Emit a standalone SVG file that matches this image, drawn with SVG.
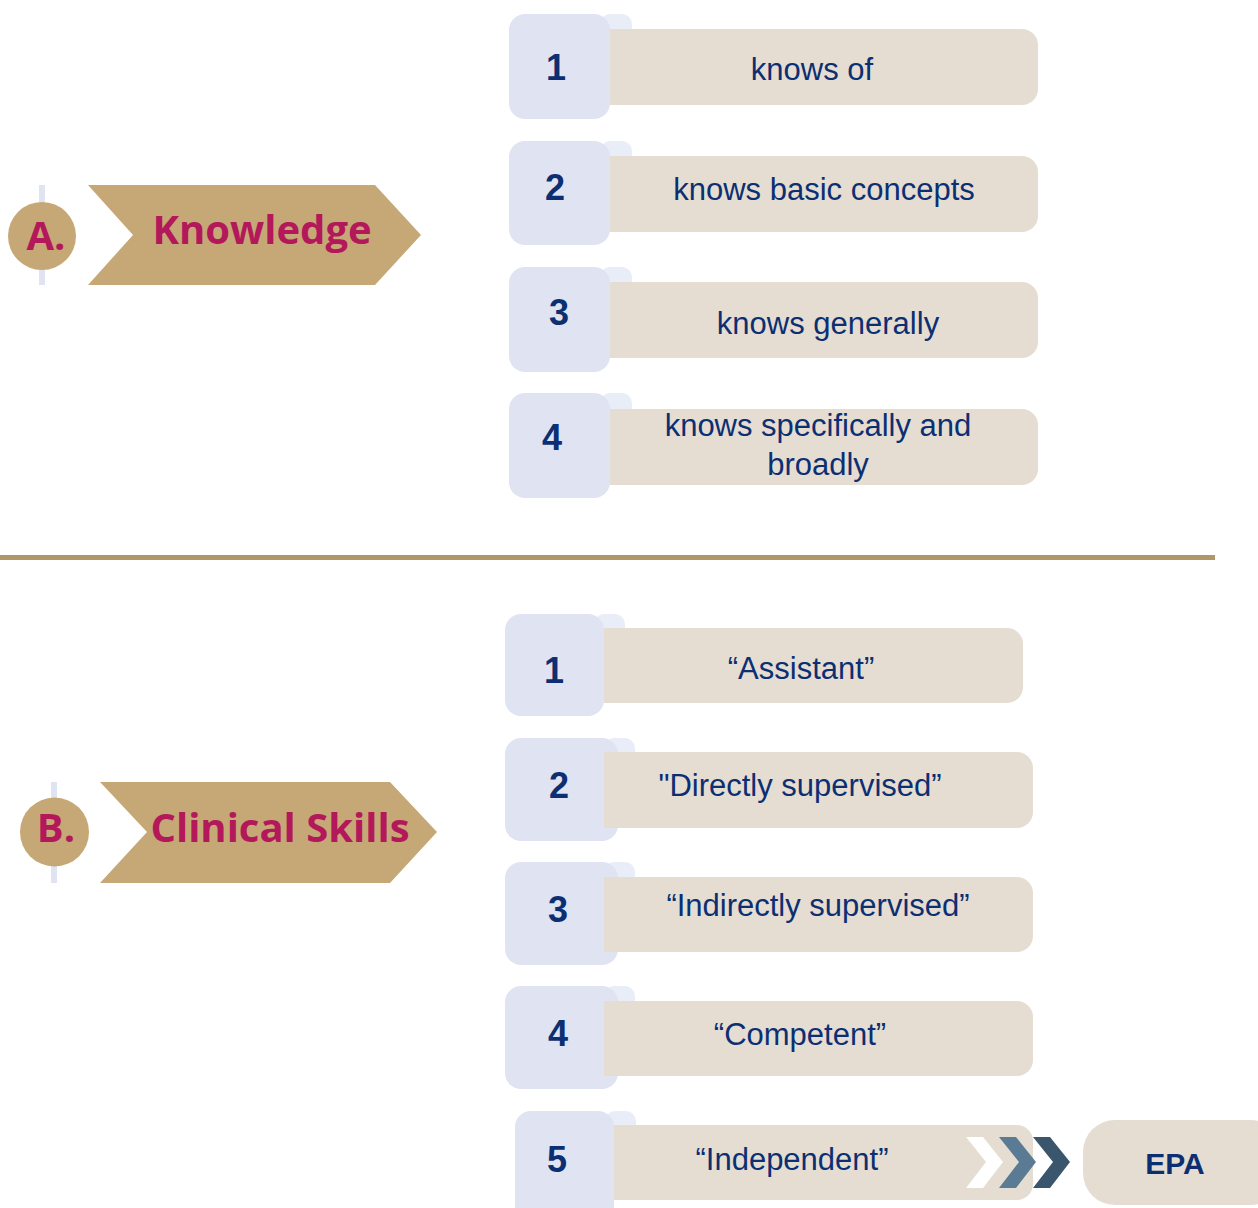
<svg xmlns="http://www.w3.org/2000/svg" width="1258" height="1208" viewBox="0 0 1258 1208">
<defs>
<style>
.blue{fill:#dfe3f2}
.tab{fill:#e9edf7}
.beige{fill:#e5ddd2}
.num{font-family:"Liberation Sans",Arial,sans-serif;font-weight:700;font-size:36px;fill:#0c2f72;text-anchor:middle}
.lbl{font-family:"Liberation Sans",Arial,sans-serif;font-size:31px;fill:#0c2f72;text-anchor:middle}
.gold{fill:#c6a876}
.head{font-family:"Open Sans","Noto Sans",sans-serif;font-weight:700;font-size:40px;fill:#b3185a}
.vline{fill:#dfe3f2}
</style>
</defs>
<rect width="1258" height="1208" fill="#ffffff"/>

<g id="A-label">
<rect class="vline" x="39" y="185" width="6" height="100"/>
<circle class="gold" cx="42" cy="236" r="34"/>
<text class="head" x="46" y="250" text-anchor="middle">A.</text>
<polygon class="gold" points="88,185 375,185 421,235 375,285 88,285 133,235"/>
<text class="head" x="262" y="244" text-anchor="middle">Knowledge</text>
</g>

<g id="A1">
<rect class="tab" x="600" y="14" width="32" height="30" rx="10"/>
<rect class="blue" x="509" y="14" width="101" height="105" rx="16"/>
<rect class="beige" x="610" y="29" width="428" height="76" rx="16"/>
<rect class="beige" x="610" y="29" width="30" height="76"/>
<text class="num" x="556" y="80">1</text>
<text class="lbl" x="812" y="80">knows of</text>
</g>
<g id="A2">
<rect class="tab" x="600" y="141" width="32" height="30" rx="10"/>
<rect class="blue" x="509" y="141" width="101" height="104" rx="16"/>
<rect class="beige" x="610" y="156" width="428" height="76" rx="16"/>
<rect class="beige" x="610" y="156" width="30" height="76"/>
<text class="num" x="555" y="200">2</text>
<text class="lbl" x="824" y="200">knows basic concepts</text>
</g>
<g id="A3">
<rect class="tab" x="600" y="267" width="32" height="30" rx="10"/>
<rect class="blue" x="509" y="267" width="101" height="105" rx="16"/>
<rect class="beige" x="610" y="282" width="428" height="76" rx="16"/>
<rect class="beige" x="610" y="282" width="30" height="76"/>
<text class="num" x="559" y="325">3</text>
<text class="lbl" x="828" y="334">knows generally</text>
</g>
<g id="A4">
<rect class="tab" x="600" y="393" width="32" height="30" rx="10"/>
<rect class="blue" x="509" y="393" width="101" height="105" rx="16"/>
<rect class="beige" x="610" y="409" width="428" height="76" rx="16"/>
<rect class="beige" x="610" y="409" width="30" height="76"/>
<text class="num" x="552" y="450">4</text>
<text class="lbl" x="818" y="436">knows specifically and</text>
<text class="lbl" x="818" y="475">broadly</text>
</g>

<rect id="divider" x="0" y="555" width="1215" height="5" fill="#b09668"/>

<g id="B-label">
<rect class="vline" x="51" y="782" width="6" height="101"/>
<circle class="gold" cx="54.5" cy="832" r="34.5"/>
<text class="head" x="56" y="842" text-anchor="middle">B.</text>
<polygon class="gold" points="100,782 390,782 437,832 390,883 100,883 147,832"/>
<text class="head" x="280" y="842" text-anchor="middle">Clinical Skills</text>
</g>

<g id="B1">
<rect class="tab" x="594" y="614" width="31" height="30" rx="10"/>
<rect class="blue" x="505" y="614" width="99" height="102" rx="16"/>
<rect class="beige" x="604" y="628" width="419" height="75" rx="16"/>
<rect class="beige" x="604" y="628" width="30" height="75"/>
<text class="num" x="554" y="683">1</text>
<text class="lbl" x="801" y="679">“Assistant”</text>
</g>
<g id="B2">
<rect class="tab" x="604" y="738" width="31" height="30" rx="10"/>
<rect class="blue" x="505" y="738" width="113" height="103" rx="16"/>
<rect class="beige" x="604" y="752" width="429" height="76" rx="16"/>
<rect class="beige" x="604" y="752" width="30" height="76"/>
<text class="num" x="559" y="798">2</text>
<text class="lbl" x="800" y="796">"Directly supervised”</text>
</g>
<g id="B3">
<rect class="tab" x="604" y="862" width="31" height="30" rx="10"/>
<rect class="blue" x="505" y="862" width="113" height="103" rx="16"/>
<rect class="beige" x="604" y="877" width="429" height="75" rx="16"/>
<rect class="beige" x="604" y="877" width="30" height="75"/>
<text class="num" x="558" y="922">3</text>
<text class="lbl" x="818" y="916">“Indirectly supervised”</text>
</g>
<g id="B4">
<rect class="tab" x="604" y="986" width="31" height="30" rx="10"/>
<rect class="blue" x="505" y="986" width="113" height="103" rx="16"/>
<rect class="beige" x="604" y="1001" width="429" height="75" rx="16"/>
<rect class="beige" x="604" y="1001" width="30" height="75"/>
<text class="num" x="558" y="1046">4</text>
<text class="lbl" x="800" y="1045">“Competent”</text>
</g>
<g id="B5">
<rect class="tab" x="605" y="1111" width="31" height="30" rx="10"/>
<rect class="blue" x="515" y="1111" width="99" height="115" rx="16"/>
<rect class="beige" x="614" y="1125" width="419" height="75" rx="16"/>
<rect class="beige" x="614" y="1125" width="30" height="75"/>
<text class="num" x="557" y="1172">5</text>
<text class="lbl" x="792" y="1170">“Independent”</text>
</g>

<g id="connectors">
<polygon fill="#ffffff" points="966,1137 983,1137 1003,1162 983,1188 966,1188 986,1162"/>
<polygon fill="#5b7b94" points="999,1137 1016,1137 1036,1162 1016,1188 999,1188 1019,1162"/>
<polygon fill="#3a566d" points="1033,1137 1050,1137 1070,1162 1050,1188 1033,1188 1053,1162"/>
</g>

<g id="EPA">
<rect class="beige" x="1083" y="1120" width="200" height="85" rx="32"/>
<text x="1175" y="1174" font-family="Liberation Sans,Arial,sans-serif" font-weight="700" font-size="30" fill="#0c2f72" text-anchor="middle">EPA</text>
</g>
</svg>
